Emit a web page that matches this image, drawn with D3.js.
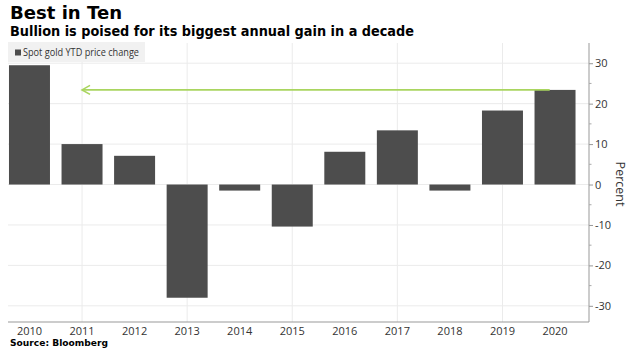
<!DOCTYPE html>
<html><head><meta charset="utf-8">
<script src="https://cdn.jsdelivr.net/npm/d3@7"></script>
<style>body{margin:0;background:#fff}svg{display:block}</style>
</head><body>
<svg id="c" width="632" height="355"></svg>
<script>
const years = ["2010","2011","2012","2013","2014","2015","2016","2017","2018","2019","2020"];
const values = [29.5, 10.0, 7.1, -28.0, -1.5, -10.4, 8.1, 13.4, -1.5, 18.3, 23.4];
const yTicks = [-30, -20, -10, 0, 10, 20, 30];
const yMinorTicks = [-25, -15, -5, 5, 15, 25];
const gridYears = ["2011","2013","2015","2017","2019"];
const title = "Best in Ten";
const subtitle = "Bullion is poised for its biggest annual gain in a decade";
const legendLabel = "Spot gold YTD price change";
const source = "Source: Bloomberg";
const arrowFrom = "2020", arrowTo = "2011";

const svg = d3.select("#c");
const font = "'Open Sans', 'DejaVu Sans', sans-serif";
const plot = {left: 8, right: 589, top: 43, bottom: 322};

const x = d3.scaleBand().domain(years).range([3.2, 581.3]).paddingInner(0.22).paddingOuter(0.11);
const y = d3.scaleLinear().domain([-34, 35]).range([plot.bottom, plot.top]);

// gridlines
const grid = svg.append("g");
grid.selectAll("line.h").data(yTicks).join("line")
  .attr("x1", plot.left).attr("x2", plot.right)
  .attr("y1", d => y(d)).attr("y2", d => y(d))
  .attr("stroke", "#ebebeb").attr("stroke-width", 1);
grid.selectAll("line.v").data(gridYears).join("line")
  .attr("x1", d => x(d) + x.bandwidth()/2).attr("x2", d => x(d) + x.bandwidth()/2)
  .attr("y1", plot.top).attr("y2", plot.bottom)
  .attr("stroke", "#ebebeb").attr("stroke-width", 1);

// legend
svg.append("rect").attr("x", 8).attr("y", 42).attr("width", 137).attr("height", 20).attr("fill", "#f1f1f1");
svg.append("rect").attr("x", 15).attr("y", 49.5).attr("width", 6).attr("height", 6).attr("fill", "#4d4d4d");
svg.append("text").attr("x", 23).attr("y", 56).attr("font-family", font).attr("font-size", 10)
  .attr("fill", "#333").attr("textLength", 116).attr("lengthAdjust", "spacingAndGlyphs").text(legendLabel);

// bars
svg.append("g").selectAll("rect").data(years.map((k,i)=>({k, v: values[i]}))).join("rect")
  .attr("x", d => x(d.k)).attr("width", x.bandwidth())
  .attr("y", d => y(Math.max(0, d.v))).attr("height", d => Math.abs(y(d.v) - y(0)))
  .attr("fill", "#4d4d4d");

// arrow annotation
const ay = y(values[years.indexOf(arrowFrom)]);
const ax1 = x(arrowTo) + x.bandwidth()/2;
const ax2 = x(arrowFrom) + x.bandwidth()*0.37;
const ag = svg.append("g").attr("stroke", "#a9d55f").attr("stroke-width", 1.6).attr("fill", "none");
ag.append("line").attr("x1", ax1).attr("x2", ax2).attr("y1", ay).attr("y2", ay);
ag.append("path").attr("d", `M${ax1+8},${ay-4.5}L${ax1},${ay}L${ax1+8},${ay+4.5}`);

// y axis (right)
const yAxis = d3.axisRight(y).tickValues(yTicks).tickSize(4).tickPadding(2)
  .tickFormat(d => (d < 0 ? "-" : "") + Math.abs(d));
const ya = svg.append("g").attr("transform", `translate(${plot.right},0)`).call(yAxis);
ya.select(".domain").attr("stroke", "#999").attr("d", `M0,${plot.top}V${plot.bottom}`);
ya.selectAll(".tick line").attr("stroke", "#999");
ya.selectAll(".tick text").attr("font-family", font).attr("font-size", 11).attr("fill", "#333");
ya.append("g").selectAll("line").data(yMinorTicks).join("line")
  .attr("x1", 0).attr("x2", 2.5).attr("y1", d => y(d)).attr("y2", d => y(d)).attr("stroke", "#aaa");

// x axis
const xAxis = d3.axisBottom(x).tickSize(0).tickPadding(5);
const xa = svg.append("g").attr("transform", `translate(0,${plot.bottom})`).call(xAxis);
xa.select(".domain").attr("stroke", "#999").attr("d", `M${plot.left},0H${plot.right}`);
xa.selectAll(".tick text").attr("font-family", font).attr("font-size", 11).attr("fill", "#333");

// Percent label
svg.append("text").attr("transform", "translate(616,184) rotate(90)").attr("text-anchor", "middle")
  .attr("font-family", font).attr("font-size", 12.5).attr("fill", "#333").text("Percent");

// titles
svg.append("text").attr("x", 10).attr("y", 19).attr("font-family", "'DejaVu Sans', sans-serif")
  .attr("font-weight", "bold").attr("font-size", 17).attr("fill", "#000")
  .attr("textLength", 112).attr("lengthAdjust", "spacingAndGlyphs").text(title);
svg.append("text").attr("x", 10).attr("y", 36).attr("font-family", "'DejaVu Sans', sans-serif")
  .attr("font-weight", "bold").attr("font-size", 13.5).attr("fill", "#000")
  .attr("textLength", 404).attr("lengthAdjust", "spacingAndGlyphs").text(subtitle);
svg.append("text").attr("x", 10).attr("y", 346).attr("font-family", "'DejaVu Sans', sans-serif")
  .attr("font-weight", "bold").attr("font-size", 9.5).attr("fill", "#000")
  .attr("textLength", 98).attr("lengthAdjust", "spacingAndGlyphs").text(source);
</script>
</body></html>
